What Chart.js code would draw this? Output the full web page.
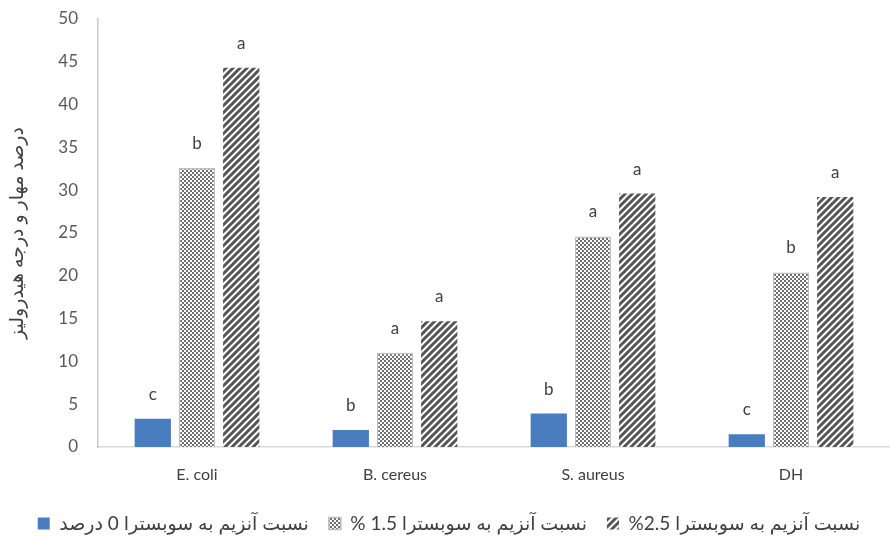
<!DOCTYPE html>
<html>
<head>
<meta charset="utf-8">
<script src="https://cdn.jsdelivr.net/npm/chart.js@4.4.1/dist/chart.umd.min.js"></script>
<style>
  html, body { margin: 0; padding: 0; background: #fff; }
  #wrap { width: 890px; height: 537px; position: relative; }
</style>
</head>
<body>
<div id="wrap"><canvas id="chart"></canvas></div>
<script>
var categories = ['E. coli', 'B. cereus', 'S. aureus', 'DH'];
var seriesNames = [
    'نسبت آنزیم به سوبسترا 0 درصد',
    'نسبت آنزیم به سوبسترا 1.5 %',
    'نسبت آنزیم به سوبسترا 2.5%'
];
var ratio0 = [3.3, 2.0, 3.9, 1.5];
var ratio15 = [32.6, 11.0, 24.6, 20.4];
var ratio25 = [44.3, 14.7, 29.6, 29.2];
var letters0 = ['c', 'b', 'b', 'c'];
var letters15 = ['b', 'a', 'a', 'b'];
var letters25 = ['a', 'a', 'a', 'a'];
var yTitle = 'درصد مهار و درجه هیدرولیز';

var FONT = "Lato, 'DejaVu Sans', sans-serif";

function checkerPattern() {
    var c = document.createElement('canvas');
    c.width = 4; c.height = 4;
    var g = c.getContext('2d');
    g.fillStyle = '#ffffff';
    g.fillRect(0, 0, 4, 4);
    g.fillStyle = '#6e6e6e';
    g.fillRect(0, 0, 2, 2);
    g.fillRect(2, 2, 2, 2);
    return g.createPattern(c, 'repeat');
}

function stripePattern() {
    var s = 7;
    var c = document.createElement('canvas');
    c.width = s; c.height = s;
    var g = c.getContext('2d');
    g.fillStyle = '#ffffff';
    g.fillRect(0, 0, s, s);
    g.strokeStyle = '#555555';
    g.lineWidth = 3;
    g.beginPath();
    g.moveTo(-s, s * 2); g.lineTo(s * 2, -s);
    g.moveTo(-s * 2, s * 2); g.lineTo(s, -s);
    g.moveTo(0, s * 2); g.lineTo(s * 3, -s);
    g.stroke();
    return g.createPattern(c, 'repeat');
}

// letters of the significance test, drawn above each bar
var letterPlugin = {
    id: 'letters',
    afterDatasetsDraw: function (chart) {
        var ctx = chart.ctx;
        var sets = [letters0, letters15, letters25];
        ctx.save();
        ctx.fillStyle = '#404040';
        ctx.font = '17px ' + FONT;
        ctx.textAlign = 'center';
        ctx.textBaseline = 'alphabetic';
        chart.data.datasets.forEach(function (ds, i) {
            var meta = chart.getDatasetMeta(i);
            meta.data.forEach(function (bar, j) {
                ctx.fillText(sets[i][j], bar.x, bar.y - 19);
            });
        });
        ctx.restore();
    }
};

var common = { barPercentage: 0.82, categoryPercentage: 0.67 };

new Chart(document.getElementById('chart').getContext('2d'), {
    type: 'bar',
    data: {
        labels: categories,
        datasets: [
            Object.assign({
                label: seriesNames[0],
                data: ratio0,
                backgroundColor: '#4a7dbf',
                borderWidth: 0
            }, common),
            Object.assign({
                label: seriesNames[1],
                data: ratio15,
                backgroundColor: checkerPattern(),
                borderColor: '#bdbdbd',
                borderWidth: 1.5
            }, common),
            Object.assign({
                label: seriesNames[2],
                data: ratio25,
                backgroundColor: stripePattern(),
                borderWidth: 0
            }, common)
        ]
    },
    options: {
        responsive: true,
        maintainAspectRatio: false,
        animation: false,
        layout: { padding: { top: 19, right: -3, left: 5, bottom: -6 } },
        plugins: {
            legend: {
                position: 'bottom',
                textDirection: 'rtl',
                labels: {
                    color: '#404040',
                    font: { size: 19, family: FONT },
                    boxWidth: 12,
                    boxHeight: 12,
                    padding: 20
                }
            },
            tooltip: { enabled: false }
        },
        scales: {
            x: {
                grid: { display: false, drawTicks: false },
                border: { display: true, color: '#d9d9d9', width: 1.5 },
                ticks: {
                    color: '#404040',
                    font: { size: 16, family: FONT },
                    padding: 18
                },
                afterFit: function (scale) { scale.height = 47; }
            },
            y: {
                min: 0,
                max: 50,
                grid: { display: false, drawTicks: false },
                border: { display: true, color: '#c8c8c8', width: 1.5 },
                ticks: {
                    stepSize: 5,
                    color: '#595959',
                    font: { size: 17, family: FONT },
                    padding: 20
                },
                title: {
                    display: true,
                    text: yTitle,
                    color: '#404040',
                    font: { size: 19, family: FONT },
                    padding: { top: 0, bottom: 10 }
                },
                afterFit: function (scale) {
                    scale.width = 93;
                    scale.paddingTop = 0;
                    scale.paddingBottom = 0;
                }
            }
        }
    },
    plugins: [letterPlugin]
});
</script>
</body>
</html>
